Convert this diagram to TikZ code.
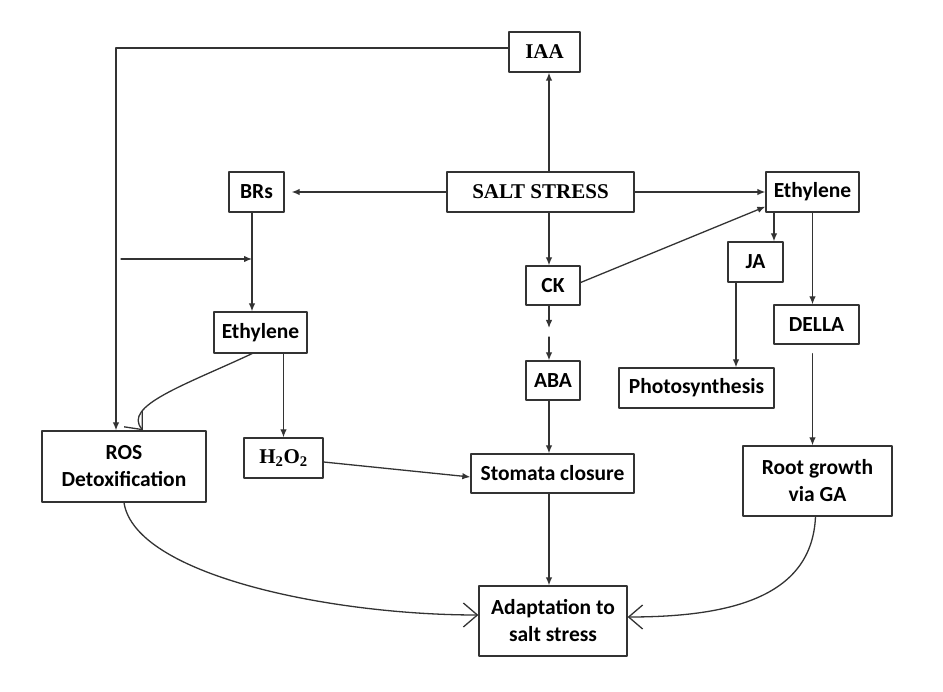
\documentclass[tikz,border=0pt]{standalone}
\usepackage{fontspec}
\setmainfont{Carlito}
\newfontfamily\timesfont{Liberation Serif}
\usetikzlibrary{arrows.meta}
\tikzstyle{every node}=[font=\fontsize{21.5}{27}\selectfont\bfseries]
\tikzstyle{every path}=[line width=1.3pt,line cap=round,line join=round]
\tikzset{
  box/.style={draw=black!80,inner sep=0pt,align=center},
  serif/.style={font=\fontsize{21}{25}\selectfont\timesfont\bfseries},
  arr/.style={draw=black!80,-{Latex[length=8pt,width=6.5pt]}},
  barb/.style={draw=black!80,-{Straight Barb[length=14pt,width=24pt]}},
}
\begin{document}
\begin{tikzpicture}[x=1pt,y=-1pt]
  \useasboundingbox (0,0) rectangle (943,692);
  % boxes
  \node[box,serif,minimum width=71pt,minimum height=40pt] (iaa) at (544.5,52) {IAA};
  \node[box,serif,minimum width=187pt,minimum height=40pt] (salt) at (540.5,192) {SALT STRESS};
  \node[box,minimum width=55pt,minimum height=40pt] (brs) at (256.5,192) {BRs};
  \node[box,minimum width=93pt,minimum height=40pt] (ethR) at (812.5,192) {Ethylene};
  \node[box,minimum width=54pt,minimum height=39pt] (ck) at (553,285.5) {CK};
  \node[box,minimum width=55pt,minimum height=40pt] (ja) at (755.5,262) {JA};
  \node[box,minimum width=93pt,minimum height=41pt] (ethL) at (260.5,332.5) {Ethylene};
  \node[box,minimum width=85pt,minimum height=39pt] (della) at (816.5,324.5) {DELLA};
  \node[box,minimum width=54pt,minimum height=39pt] (aba) at (553,380.5) {ABA};
  \node[box,minimum width=155pt,minimum height=40pt] (photo) at (696.5,388) {Photosynthesis};
  \node[box,minimum width=164pt,minimum height=71pt] (ros) at (124,466.5) {ROS\\Detoxification};
  \node[box,serif,minimum width=79pt,minimum height=40pt] (hoo) at (283.5,458) {H\textsubscript{2}O\textsubscript{2}};
  \node[box,minimum width=163pt,minimum height=39pt] (stoma) at (552.5,473.5) {Stomata closure};
  \node[box,minimum width=149pt,minimum height=70pt] (root) at (817.5,481) {Root growth\\via GA};
  \node[box,minimum width=148pt,minimum height=70pt] (adapt) at (553,621) {Adaptation to\\salt stress};
  % helper coordinates
  \coordinate (trunk) at (549,0);
  \coordinate (tl) at (116,48);
  \coordinate (brX) at (252,0);
  \coordinate (jaX) at (774,0);
  \coordinate (jaY) at (736,0);
  \coordinate (sideIn) at (121,259);
  \coordinate (gapA) at (549,328);
  \coordinate (gapB) at (549,337);
  % connectors
  \draw[arr] (iaa.west |- tl)--(tl)--(ros.north -| tl);
  \draw[arr] (salt.north -| trunk)--(iaa.south -| trunk);
  \draw[arr,shorten >=7pt] (salt.west)--(brs.east);
  \draw[arr] (salt.east)--(ethR.west);
  \draw[arr] (salt.south -| trunk)--(ck.north -| trunk);
  \draw[arr] ([yshift=3pt]ck.east)--([yshift=6pt]ethR.south west);
  \draw[arr] (ck.south -| trunk)--(gapA);
  \draw[arr] (gapB)--(aba.north -| trunk);
  \draw[arr] (aba.south -| trunk)--(stoma.north -| trunk);
  \draw[arr] (stoma.south -| trunk)--(adapt.north -| trunk);
  \draw[arr] (ethR.south -| jaX)--(ja.north -| jaX);
  \draw[arr] (ethR.south)--(ethR.south |- della.north);
  \draw[arr] (ja.south -| jaY)--(photo.north -| jaY);
  \draw[arr,shorten <=9pt] (della.south -| ethR.south)--(root.north -| ethR.south);
  \draw[arr] (brs.south -| brX)--(ethL.north -| brX);
  \draw[arr] (sideIn)--(sideIn -| brX);
  \draw[arr] (hoo.south |- ethL.south)--(hoo.north);
  \draw[arr] ([yshift=-4pt]hoo.east)--([yshift=-3.5pt]stoma.west);
  \draw[barb] (ethL.south -| brX) .. controls (185,385) and (122,406) .. ([xshift=19pt]ros.north);
  \draw[barb] (ros.south) .. controls (135,575) and (330,615) .. ([yshift=6pt]adapt.west);
  \draw[barb] ([xshift=-2pt]root.south) .. controls (812,595) and (735,617) .. ([yshift=4pt]adapt.east);
\end{tikzpicture}
\end{document}
